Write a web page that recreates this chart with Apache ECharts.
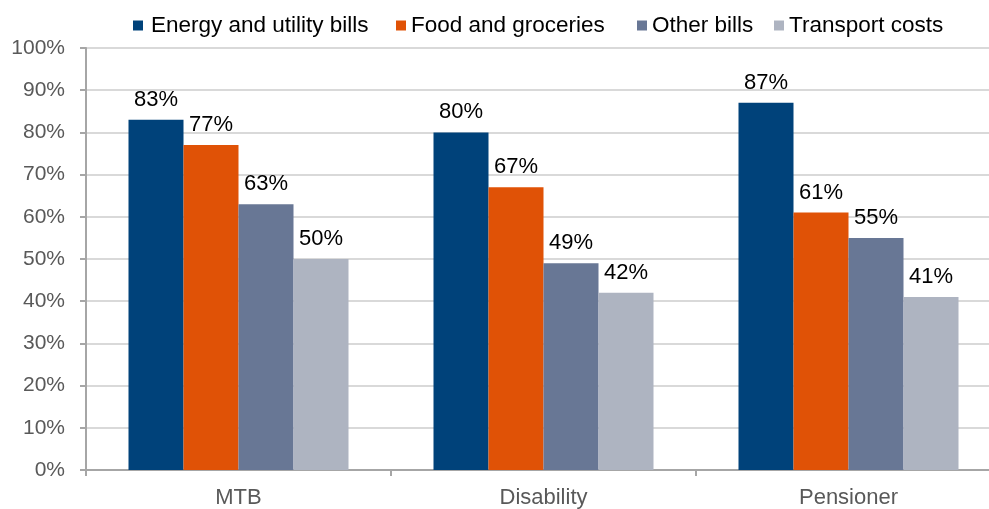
<!DOCTYPE html>
<html><head><meta charset="utf-8">
<script src="https://cdn.jsdelivr.net/npm/echarts@6/dist/echarts.min.js"></script>
<style>html,body{margin:0;padding:0;background:#fff}#c{width:989px;height:509px}</style>
</head><body><div id="c"></div>
<script>
const categories = ['MTB', 'Disability', 'Pensioner'];
const seriesNames = ['Energy and utility bills', 'Food and groceries', 'Other bills', 'Transport costs'];
const energy = [83, 80, 87];
const food = [77, 67, 61];
const other = [63, 49, 55];
const transport = [50, 42, 41];
const yTicks = [0, 10, 20, 30, 40, 50, 60, 70, 80, 90, 100];
const colors = ['#00427A', '#E05206', '#687795', '#AEB4C1'];
const values = [energy, food, other, transport];
const legendLeft = [133, 396, 637, 774];
const FONT = 'Liberation Sans, Arial, sans-serif';

const chart = echarts.init(document.getElementById('c'), null, {renderer: 'canvas'});
chart.setOption({
  animation: false,
  textStyle: {fontFamily: FONT},
  legend: seriesNames.map((n, i) => ({
    top: 14, left: legendLeft[i], padding: 0,
    itemWidth: 10, itemHeight: 10,
    icon: 'rect',
    textStyle: {fontSize: 22.5, color: '#000', fontFamily: FONT, padding: [0, 0, 0, i === 0 ? 3 : 0]},
    data: [n]
  })),
  grid: {left: 86, top: 48, width: 915, height: 422, containLabel: false, outerBoundsMode: 'none'},
  xAxis: {
    type: 'category', data: categories,
    axisLine: {lineStyle: {color: '#A6A6A6', width: 2}},
    axisTick: {show: true, length: 6, lineStyle: {color: '#A6A6A6', width: 2}},
    axisLabel: {fontSize: 22, color: '#595959', margin: 17, fontFamily: FONT}
  },
  yAxis: {
    type: 'value', min: yTicks[0], max: yTicks[yTicks.length - 1], interval: 10,
    axisLine: {show: true, lineStyle: {color: '#A6A6A6', width: 2}},
    axisTick: {show: true, length: 6, lineStyle: {color: '#A6A6A6', width: 2}},
    axisLabel: {fontSize: 21, color: '#595959', margin: 21, formatter: v => v + '%', fontFamily: FONT},
    splitLine: {lineStyle: {color: '#D9D9D9', width: 2}}
  },
  series: seriesNames.map((n, i) => ({
    name: n, type: 'bar', data: values[i],
    barWidth: 55, barGap: '0%',
    itemStyle: {color: colors[i]},
    label: {show: true, position: 'top', distance: 9, formatter: p => p.value + '%',
      fontSize: 22, color: '#000', fontFamily: FONT}
  }))
});
</script></body></html>
